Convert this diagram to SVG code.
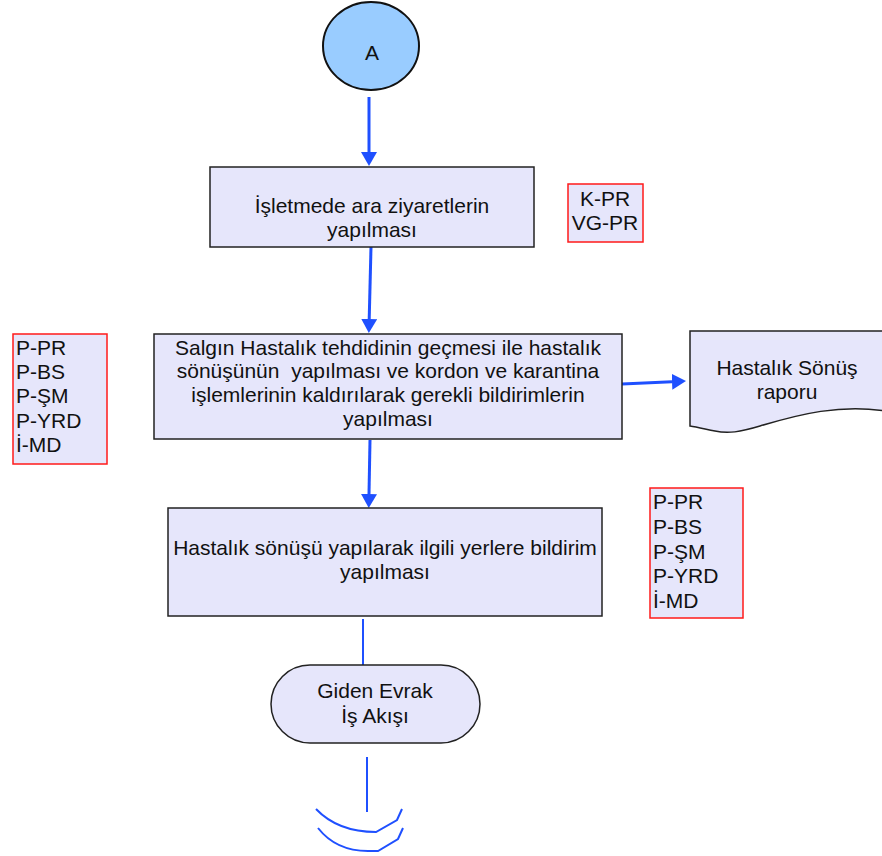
<svg xmlns="http://www.w3.org/2000/svg" width="882" height="856" viewBox="0 0 882 856">
<style>
  text { font-family: "Liberation Sans", Arial, sans-serif; font-size: 21px; fill: #111; }
  .c { text-anchor: middle; }
  .box { fill: #e6e6fb; stroke: #222; stroke-width: 1.5; }
  .rbox { fill: #e6e6fb; stroke: #ff1a1a; stroke-width: 1.5; }
  .arr { stroke: #1f50ff; stroke-width: 3; fill: none; }
  .ln { stroke: #1f50ff; stroke-width: 2; fill: none; }
</style>
<defs>
  <marker id="ah" viewBox="0 0 14 16" refX="0" refY="8" markerWidth="14" markerHeight="16" markerUnits="userSpaceOnUse" orient="auto">
    <path d="M0,0 L14,8 L0,16 Z" fill="#1f50ff"/>
  </marker>
</defs>

<g id="connectors">
  <line class="arr" x1="369" y1="97" x2="369" y2="152" marker-end="url(#ah)"/>
  <line class="arr" x1="371" y1="247" x2="369.2" y2="319" marker-end="url(#ah)"/>
  <line class="arr" x1="622" y1="384" x2="672" y2="381.7" marker-end="url(#ah)"/>
  <line class="arr" x1="370" y1="440" x2="369" y2="494" marker-end="url(#ah)"/>
  <line class="ln" x1="363" y1="619" x2="363" y2="665"/>
  <line class="ln" x1="367" y1="757" x2="367" y2="812"/>
  <path class="ln" d="M316,809 Q338,832 376,832 L397,820 L402,809"/>
  <path class="ln" d="M318,828 Q336,851 368,851 L378,851 L398,839 L403,828"/>
</g>

<g id="nodeA">
  <ellipse cx="371" cy="46" rx="48" ry="44" fill="#99ccff" stroke="#111" stroke-width="2"/>
  <text class="c" x="372" y="60">A</text>
</g>

<g id="box1">
  <rect class="box" x="210" y="167" width="324" height="80"/>
  <text class="c" x="372" y="213">İşletmede ara ziyaretlerin</text>
  <text class="c" x="372" y="237">yapılması</text>
</g>

<g id="kpr">
  <rect class="rbox" x="568" y="184" width="75" height="58"/>
  <text class="c" x="605" y="206">K-PR</text>
  <text class="c" x="605" y="230">VG-PR</text>
</g>

<g id="box2">
  <rect class="box" x="154" y="334" width="468" height="105"/>
  <text class="c" x="388" y="355">Salgın Hastalık tehdidinin geçmesi ile hastalık</text>
  <text class="c" x="388" y="378" xml:space="preserve">sönüşünün  yapılması ve kordon ve karantina</text>
  <text class="c" x="388" y="402">işlemlerinin kaldırılarak gerekli bildirimlerin</text>
  <text class="c" x="388" y="426">yapılması</text>
</g>

<g id="left-roles">
  <rect class="rbox" x="13" y="334" width="94" height="130"/>
  <text x="16" y="355">P-PR</text>
  <text x="16" y="379">P-BS</text>
  <text x="16" y="403">P-ŞM</text>
  <text x="16" y="428">P-YRD</text>
  <text x="16" y="452">İ-MD</text>
</g>

<g id="doc">
  <path class="box" d="M690,331 L886,331 L886,411 C840,404 800,414 760,426 C740,432 728,434 715,431 C705,429 697,427 690,426 Z"/>
  <text class="c" x="787" y="375">Hastalık Sönüş</text>
  <text class="c" x="787" y="399">raporu</text>
</g>

<g id="box3">
  <rect class="box" x="168" y="508" width="434" height="108"/>
  <text class="c" x="385" y="555">Hastalık sönüşü yapılarak ilgili yerlere bildirim</text>
  <text class="c" x="385" y="579">yapılması</text>
</g>

<g id="right-roles">
  <rect class="rbox" x="650" y="488" width="93" height="130"/>
  <text x="653" y="509">P-PR</text>
  <text x="653" y="534">P-BS</text>
  <text x="653" y="559">P-ŞM</text>
  <text x="653" y="583">P-YRD</text>
  <text x="653" y="608">İ-MD</text>
</g>

<g id="terminal">
  <rect class="box" x="271" y="665" width="209" height="78" rx="39" ry="39"/>
  <text class="c" x="375" y="698">Giden Evrak</text>
  <text class="c" x="375" y="723">İş Akışı</text>
</g>
</svg>
